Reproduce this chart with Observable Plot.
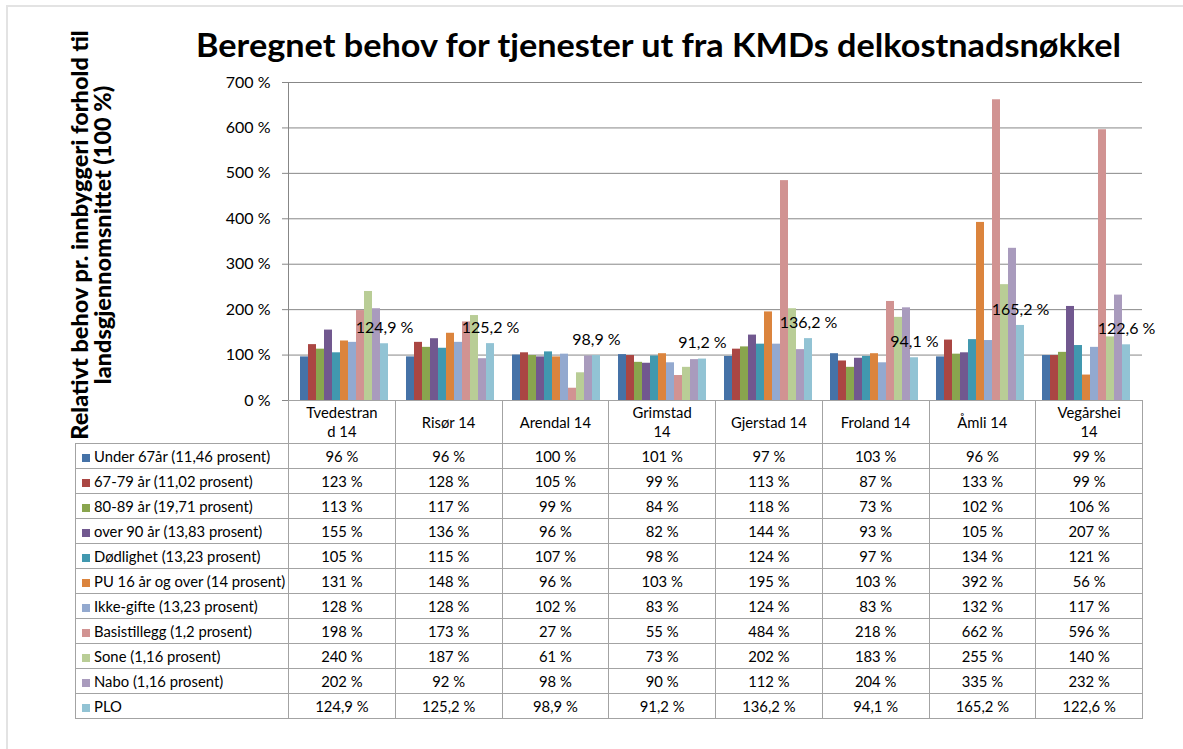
<!DOCTYPE html>
<html>
<head>
<meta charset="utf-8">
<script src="https://cdn.jsdelivr.net/npm/d3@7"></script>
<script src="https://cdn.jsdelivr.net/npm/@observablehq/plot@0.6"></script>
<style>
  html, body { margin: 0; padding: 0; background: #fff; overflow: hidden; }
  #wrap { position: relative; width: 1183px; height: 749px; overflow: hidden; font-family: Lato, "Open Sans", sans-serif; }
  #frame { position: absolute; left: 6px; top: 5px; width: 1300px; height: 900px; border: 2px solid #e3e3e3; }
  #title { position: absolute; top: 24px; left: 658px; white-space: nowrap; font-weight: bold; font-size: 33px; line-height: 40px; color: #000; transform-origin: 0 0; }
  #ylabel { position: absolute; left: -148px; top: 211px; width: 480px; height: 48px; text-align: center; font-weight: 900; font-size: 23.5px; line-height: 23px; white-space: nowrap; transform: rotate(-90deg); transform-origin: 50% 50%; color: #000; }
  .plot { position: absolute; left: 0; top: 0; }
  #tbl { position: absolute; left: 75px; top: 400px; border-collapse: collapse; table-layout: fixed; font-size: 14.8px; color: #000; }
  #tbl td { border: 1px solid #a3a3a3; padding: 0; text-align: center; white-space: pre-line; overflow: hidden; }
  #tbl tr.head { height: 43px; }
  #tbl tr.head td { line-height: 19px; }
  #tbl tr.row { height: 25px; }
  #tbl td.lab { text-align: left; padding-left: 6px; white-space: nowrap; }
  #tbl td.blank { border-top: none; border-left: none; }
  .sw { display: inline-block; width: 8px; height: 8px; margin-right: 4px; vertical-align: 0px; }
</style>
</head>
<body>
<div id="wrap">
  <div id="frame"></div>
  <div id="title">Beregnet behov for tjenester ut fra KMDs delkostnadsnøkkel</div>
  <div id="ylabel">Relativt behov pr. innbyggeri forhold til<br>landsgjennomsnittet (100 %)</div>
  <div id="plotA" class="plot"></div>
  <div id="plotB" class="plot"></div>
  <table id="tbl"></table>
</div>
<script>
// ---- data ----
const municipalities = ["Tvedestrand 14", "Risør 14", "Arendal 14", "Grimstad 14", "Gjerstad 14", "Froland 14", "Åmli 14", "Vegårshei 14"];
const municipalityLabels = ["Tvedestran\nd 14", "Risør 14", "Arendal 14", "Grimstad\n14", "Gjerstad 14", "Froland 14", "Åmli 14", "Vegårshei\n14"];
const seriesNames = [
  "Under 67år (11,46 prosent)",
  "67-79 år (11,02 prosent)",
  "80-89 år (19,71 prosent)",
  "over 90 år (13,83 prosent)",
  "Dødlighet (13,23 prosent)",
  "PU 16 år og over (14 prosent)",
  "Ikke-gifte (13,23 prosent)",
  "Basistillegg (1,2 prosent)",
  "Sone (1,16 prosent)",
  "Nabo (1,16 prosent)",
  "PLO"
];
const seriesColors = ["#4572A7", "#AA4643", "#89A54E", "#71588F", "#4198AF", "#DB843D", "#93A9CF", "#D19392", "#B9CD96", "#A99BBD", "#92C3D4"];
const under67     = [96, 96, 100, 101, 97, 103, 96, 99];
const age67to79   = [123, 128, 105, 99, 113, 87, 133, 99];
const age80to89   = [113, 117, 99, 84, 118, 73, 102, 106];
const over90      = [155, 136, 96, 82, 144, 93, 105, 207];
const dodlighet   = [105, 115, 107, 98, 124, 97, 134, 121];
const pu16        = [131, 148, 96, 103, 195, 103, 392, 56];
const ikkeGifte   = [128, 128, 102, 83, 124, 83, 132, 117];
const basistillegg= [198, 173, 27, 55, 484, 218, 662, 596];
const sone        = [240, 187, 61, 73, 202, 183, 255, 140];
const nabo        = [202, 92, 98, 90, 112, 204, 335, 232];
const plo         = [124.9, 125.2, 98.9, 91.2, 136.2, 94.1, 165.2, 122.6];
const yTicks = [0, 100, 200, 300, 400, 500, 600, 700];

const seriesValues = [under67, age67to79, age80to89, over90, dodlighet, pu16, ikkeGifte, basistillegg, sone, nabo, plo];
const fmt = v => (Number.isInteger(v) ? String(v) : v.toFixed(1).replace(".", ",")) + " %";

const rows = seriesValues.flatMap((vals, si) => vals.map((v, mi) => ({muni: municipalities[mi], series: seriesNames[si], value: v})));
const ploRows = rows.filter(d => d.series === "PLO");

// ---- layout ----
const W = 1183, H = 420, mL = 288, mT = 82, mB = 20, plotRight = 1142;
const step = (plotRight - mL) / municipalities.length;
const font = "Lato, 'Open Sans', sans-serif";

const plotA = Plot.plot({
  width: W, height: H, marginLeft: mL, marginRight: W - plotRight, marginTop: mT, marginBottom: mB,
  style: {background: "transparent", fontFamily: font, fontSize: "16px", color: "#000", overflow: "visible"},
  x: {domain: [0, 1], axis: null},
  y: {domain: [0, 700], axis: null},
  marks: [
    Plot.ruleY(yTicks, {stroke: "#878787", strokeWidth: 1}),
    Plot.ruleX([0], {stroke: "#878787", strokeWidth: 1}),
    Plot.axisY(yTicks, {tickFormat: d => d + " %", tickSize: 6, tickPadding: 12, fontSize: 16, stroke: "#878787", fill: "#000"})
  ]
});
document.getElementById("plotA").appendChild(plotA);

const plotB = Plot.plot({
  width: W, height: H, marginLeft: mL, marginRight: W - plotRight, marginTop: mT, marginBottom: mB,
  style: {background: "transparent", fontFamily: font, color: "#000"},
  fx: {domain: municipalities, paddingInner: 12 / step, paddingOuter: 6 / step, axis: null, label: null},
  x: {domain: seriesNames, padding: 0, axis: null},
  y: {domain: [0, 700], axis: null},
  color: {domain: seriesNames, range: seriesColors},
  marks: [
    Plot.barY(rows, {fx: "muni", x: "series", y: "value", fill: "series"}),
    Plot.text(ploRows, {fx: "muni", x: "series", y: "value", text: d => fmt(d.value), dy: -16, fontSize: 16, fill: "#000"})
  ]
});
document.getElementById("plotB").appendChild(plotB);

// ---- data table ----
const tbl = document.getElementById("tbl");
const cg = document.createElement("colgroup");
const c0 = document.createElement("col"); c0.style.width = (mL - 75) + "px"; cg.appendChild(c0);
municipalities.forEach(() => { const c = document.createElement("col"); c.style.width = step + "px"; cg.appendChild(c); });
tbl.appendChild(cg);
tbl.style.width = (plotRight - 75) + "px";
const head = document.createElement("tr"); head.className = "head";
const blank = document.createElement("td"); blank.className = "blank"; head.appendChild(blank);
municipalityLabels.forEach(l => { const td = document.createElement("td"); td.textContent = l; head.appendChild(td); });
tbl.appendChild(head);
seriesNames.forEach((name, si) => {
  const tr = document.createElement("tr"); tr.className = "row";
  const lab = document.createElement("td"); lab.className = "lab";
  const sw = document.createElement("span"); sw.className = "sw"; sw.style.background = seriesColors[si];
  lab.appendChild(sw); lab.appendChild(document.createTextNode(name));
  tr.appendChild(lab);
  seriesValues[si].forEach(v => { const td = document.createElement("td"); td.textContent = fmt(v); tr.appendChild(td); });
  tbl.appendChild(tr);
});

// fit title to the reference width, centred
const t = document.getElementById("title");
const tw = t.getBoundingClientRect().width;
const s = 925 / tw;
t.style.transform = `scaleX(${s})`;
t.style.left = (658 - 925 / 2) + "px";
</script>
</body>
</html>
